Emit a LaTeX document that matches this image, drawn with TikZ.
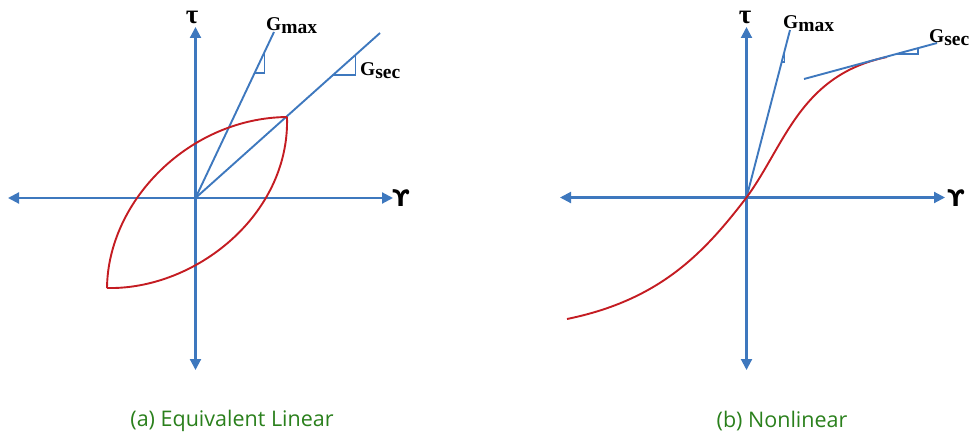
\documentclass[tikz,border=0pt]{standalone}
\usepackage{fontspec}
\setmainfont{Liberation Serif}
\newfontfamily\capfont{Open Sans}
\newfontfamily\symfont{DejaVu Sans}
\usetikzlibrary{arrows.meta,calc}
\definecolor{axblue}{RGB}{62,120,190}
\definecolor{curvered}{RGB}{196,28,34}
\definecolor{capgreen}{RGB}{42,128,28}
\tikzset{
  axisline/.style={draw=axblue, line width=2.1pt, {Triangle[length=11pt,width=11pt]}-{Triangle[length=11pt,width=11pt]}},
  modline/.style={draw=axblue, line width=1.9pt},
  tri/.style={draw=axblue, line width=1.6pt},
  curve/.style={draw=curvered, line width=1.9pt},
  glab/.style={font=\fontsize{19.5}{22}\selectfont\bfseries, inner sep=0pt, anchor=west},
  symlab/.style={font=\fontsize{27}{30}\selectfont\bfseries, inner sep=0pt},
  gamlab/.style={font=\symfont\fontsize{23}{26}\selectfont\bfseries, inner sep=0pt},
  caplab/.style={font=\capfont\fontsize{21.5}{24}\selectfont, text=capgreen, inner sep=0pt}
}
\begin{document}
\begin{tikzpicture}[x=1pt,y=-1pt]
\useasboundingbox (0,0) rectangle (971,436);
% ---------------- left panel ----------------
\coordinate (O1) at (195.5,198);
\coordinate (A1l) at (8,198);
\coordinate (A1r) at (393,198);
\coordinate (A1t) at (195.5,27);
\coordinate (A1b) at (195.5,370);
\draw[axisline] (A1l) -- (A1r);
\draw[axisline] (A1b) -- (A1t);
\node[symlab] (tau1) at (192,17) {τ};
\node[gamlab] (gam1) at (401,198) {ϒ};
% Gmax line
\coordinate (G1t) at (274,32);
\draw[modline] (O1) -- (G1t);
\coordinate (G1a) at ($(O1)!0.88!(G1t)$);
\coordinate (G1b) at ($(O1)!0.753!(G1t)$);
\draw[tri] (G1b) -- (G1a|-G1b) -- (G1a);
\node[glab] (gmax1) at (266,26) {G$_{\textbf{max}}$};
% Gsec line
\coordinate (S1t) at (380,33);
\draw[modline] (O1) -- (S1t);
\coordinate (S1a) at ($(O1)!0.867!(S1t)$);
\coordinate (S1b) at ($(O1)!0.745!(S1t)$);
\draw[tri] (S1b) -- (S1a|-S1b) -- (S1a);
\node[glab] (gsec1) at (360,71) {G$_{\textbf{sec}}$};
% hysteresis loop
\coordinate (H1) at (287,117);
\coordinate (H2) at (107,288);
\draw[curve] (H2) .. controls (108,200) and (190,118) .. (H1);
\draw[curve] (H2) .. controls (195,290) and (290,215) .. (H1);
\node[caplab] (capa) at (232,421) {(a) Equivalent Linear};
% ---------------- right panel ----------------
\coordinate (O2) at (746.5,197.5);
\coordinate (A2l) at (560,197.5);
\coordinate (A2r) at (945,197.5);
\coordinate (A2t) at (746.5,27);
\coordinate (A2b) at (746.5,370);
\draw[axisline] (A2l) -- (A2r);
\draw[axisline] (A2b) -- (A2t);
\node[symlab] (tau2) at (745,17) {τ};
\node[gamlab] (gam2) at (956,198) {ϒ};
% Gmax line
\coordinate (G2t) at (790,30);
\draw[modline] (O2) -- (G2t);
\coordinate (G2a) at ($(O2)!0.869!(G2t)$);
\coordinate (G2b) at ($(O2)!0.809!(G2t)$);
\draw[tri] (G2b) -- (G2a|-G2b) -- (G2a);
\node[glab] (gmax2) at (783,24) {G$_{\textbf{max}}$};
% nonlinear curve
\coordinate (C0) at (567,319);
\coordinate (C1) at (887,57);
\draw[curve] (C0) .. controls (660,300) and (704,253) .. (O2) .. controls (785,145) and (800,75) .. (C1);
% Gsec tangent line
\coordinate (S2s) at (804,79);
\coordinate (S2t) at (937,43);
\draw[modline] (S2s) -- (S2t);
\coordinate (S2a) at ($(S2s)!0.857!(S2t)$);
\coordinate (S2b) at ($(S2s)!0.692!(S2t)$);
\draw[tri] (S2b) -- (S2a|-S2b) -- (S2a);
\node[glab] (gsec2) at (929,38) {G$_{\textbf{sec}}$};
\node[caplab] (capb) at (782,421) {(b) Nonlinear};
\end{tikzpicture}
\end{document}
